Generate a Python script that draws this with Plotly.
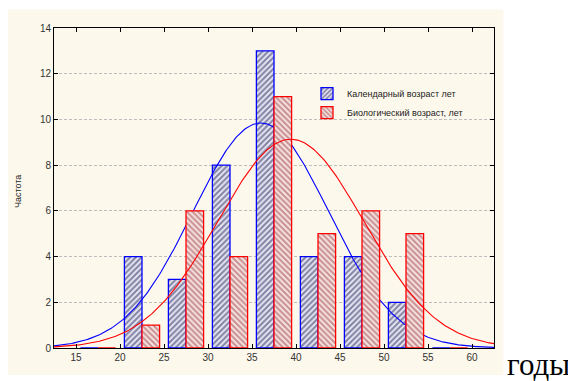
import numpy as np
import plotly.graph_objects as go

# ---- data ----
bin_centers = [17.5, 22.5, 27.5, 32.5, 37.5, 42.5, 47.5, 52.5, 57.5]
calendar_age = [0, 4, 3, 8, 13, 4, 4, 2, 0]
biological_age = [0, 1, 6, 4, 11, 5, 6, 5, 0]
series_names = ["Календарный возраст лет", "Биологический возраст, лет"]
x_ticks = [15, 20, 25, 30, 35, 40, 45, 50, 55, 60]
y_ticks = [0, 2, 4, 6, 8, 10, 12, 14]
# fitted normal curve parameters
n_obs = 38
bin_width = 5
cal_mean, cal_sd = 36.0, 7.7
bio_mean, bio_sd = 39.4, 8.3

xs = np.linspace(12.5, 62.5, 301)


def normal_fit(mean, sd):
    return n_obs * bin_width / (sd * np.sqrt(2 * np.pi)) * np.exp(-0.5 * ((xs - mean) / sd) ** 2)


fig = go.Figure()
fig.add_trace(go.Bar(
    x=bin_centers, y=calendar_age, name=series_names[0], width=2, offset=-2,
    marker=dict(color="#e6e6f2", line=dict(color="#0000ff", width=1.3),
                pattern=dict(shape="/", fgcolor="#1c1c55", bgcolor="#e6e6f2", size=4, solidity=0.5)),
    xaxis="x", yaxis="y"))
fig.add_trace(go.Scatter(x=xs, y=normal_fit(cal_mean, cal_sd), mode="lines",
                         line=dict(color="#0000ff", width=1.1), showlegend=False,
                         xaxis="x", yaxis="y"))
fig.add_trace(go.Bar(
    x=bin_centers, y=biological_age, name=series_names[1], width=2, offset=0,
    marker=dict(color="#f6e2e2", line=dict(color="#ff0000", width=1.3),
                pattern=dict(shape="\\", fgcolor="#9a3c3c", bgcolor="#f6e2e2", size=4, solidity=0.5)),
    xaxis="x2", yaxis="y2"))
fig.add_trace(go.Scatter(x=xs, y=normal_fit(bio_mean, bio_sd), mode="lines",
                         line=dict(color="#ff0000", width=1.1), showlegend=False,
                         xaxis="x2", yaxis="y2"))

tickfont = dict(family="Arial, Liberation Sans", size=10, color="#333333")
axis_common = dict(showline=True, linecolor="black", linewidth=1, mirror="allticks",
                   ticks="inside", ticklen=4, tickcolor="black", tickfont=tickfont, zeroline=False)

fig.update_layout(
    width=568, height=373, autosize=False,
    margin=dict(l=46, r=82, t=20, b=33),
    paper_bgcolor="white", plot_bgcolor="white",
    xaxis=dict(range=[12.5, 62.5], tickvals=x_ticks, showgrid=False, **axis_common),
    yaxis=dict(range=[0, 14], tickvals=y_ticks, showgrid=True, gridcolor="#bdbdbd",
               griddash="3px,2px", gridwidth=1, **axis_common),
    xaxis2=dict(range=[12.5, 62.5], overlaying="x", visible=False),
    yaxis2=dict(range=[0, 14], overlaying="y", visible=False),
    showlegend=True,
    legend=dict(x=0.575, y=0.84, xanchor="left", yanchor="top", bgcolor="rgba(0,0,0,0)",
                font=dict(family="Arial, Liberation Sans", size=9, color="#222222"),
                tracegroupgap=0, itemwidth=30),
    shapes=[dict(type="rect", xref="paper", yref="paper", x0=-0.105, x1=1.0214,
                 y0=-0.084, y1=1.058, fillcolor="#fdf8ec", line=dict(width=0), layer="below")],
    annotations=[
        dict(text="Частота", xref="paper", yref="paper", x=-0.082, y=0.49, textangle=-90,
             xanchor="center", yanchor="middle",
             showarrow=False, font=dict(family="Arial, Liberation Sans", size=9, color="#222222")),
        dict(text="годы", xref="paper", yref="paper", x=1.1, y=-0.112, xanchor="center",
             yanchor="bottom", showarrow=False,
             font=dict(family="Liberation Serif, Times New Roman", size=31, color="black")),
    ],
)

fig.write_html("out.html")
